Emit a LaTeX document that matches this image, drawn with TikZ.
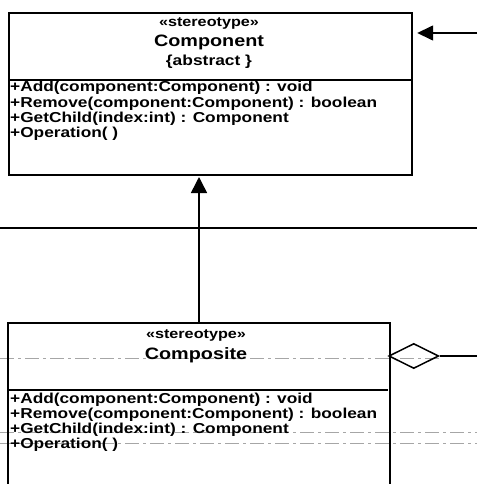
\documentclass[tikz,border=0pt]{standalone}
\usepackage{fontspec}
\setmainfont[FakeStretch=1.2]{Liberation Sans}
\usetikzlibrary{shapes.geometric,arrows.meta}
\begin{document}
\begin{tikzpicture}[x=1pt,y=-1pt,
  classbox/.style={line width=2.2pt,inner sep=0pt,anchor=north west},
  stereo/.style={font=\bfseries\fontsize{13.5}{14}\selectfont,inner sep=0pt},
  cname/.style={font=\bfseries\fontsize{16.5}{17}\selectfont,inner sep=0pt},
  method/.style={font=\bfseries\fontsize{14.4}{15}\selectfont,inner sep=0pt,anchor=west},
  conn/.style={line width=1.5pt},
  gen/.style={conn,-{Triangle[width=16pt,length=16pt]}},
  nav/.style={conn,-{Triangle[width=15pt,length=16pt]}},
  scanline/.style={gray!70,line width=0.7pt,dash pattern=on 14pt off 4pt on 3pt off 4pt}]
\useasboundingbox (0,0) rectangle (477,484);
\fill[white] (0,0) rectangle (477,484);

% Component class
\node[classbox,draw,minimum width=403pt,minimum height=162pt] (comp) at (8,12) {};
\draw[line width=1.5pt] (8,80) -- (411,80);
\node[stereo] (cst) at (209,23) {«stereotype»};
\node[cname] (cnm) at (209,42) {Component};
\node[stereo,font=\bfseries\fontsize{14.5}{15}\selectfont] (cab) at (209,62) {\{abstract \}};
\node[method] (cm1) at (10,88) {+Add(component:Component) : void};
\node[method] (cm2) at (10,103.5) {+Remove(component:Component) : boolean};
\node[method] (cm3) at (10,118.5) {+GetChild(index:int) : Component};
\node[method] (cm4) at (10,133.5) {+Operation( )};

% incoming association at top right
\coordinate (src) at (477,33);
\draw[nav,shorten >=4pt] (src) -- (comp.east |- src);

% horizontal line across
\coordinate (hl) at (0,228);
\coordinate (hr) at (477,228);
\draw[conn] (hl) -- (hr);

% scan artefact dashed lines
\draw[scanline] (0,358) -- (440,358);
\draw[scanline] (0,432) -- (477,432);
\draw[scanline] (0,443) -- (477,443);

% Composite class (open at bottom)
\node[classbox,minimum width=380pt,minimum height=161pt] (compo) at (8,323) {};
\draw[line width=2.2pt] (compo.south west) -- (compo.north west) -- (compo.north east) -- (compo.south east);
\draw[line width=1.5pt] (8,390) -- (388,390);
\node[stereo] (ost) at (196,335) {«stereotype»};
\node[cname] (onm) at (196,355) {Composite};
\node[method] (om1) at (10,399.5) {+Add(component:Component) : void};
\node[method] (om2) at (10,414.5) {+Remove(component:Component) : boolean};
\node[method] (om3) at (10,429.5) {+GetChild(index:int) : Component};
\node[method] (om4) at (10,444.5) {+Operation( )};

% generalization
\draw[gen] (compo.north -| 199,0) -- (199,177) coordinate (gtip);

% aggregation diamond
\node[diamond,draw,line width=1.5pt,inner sep=0pt,minimum width=50pt,minimum height=25pt,anchor=west] (dia) at (388,356) {};
\coordinate (aggr) at (477,356);
\draw[conn] (dia.east) -- (aggr);
\end{tikzpicture}
\end{document}
